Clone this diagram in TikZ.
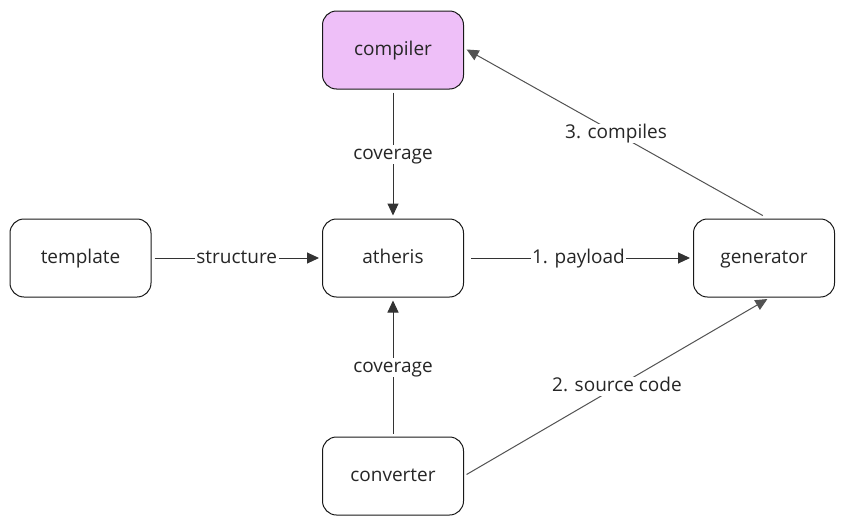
\documentclass[tikz,border=0pt]{standalone}
\usepackage{fontspec}
\setmainfont{Open Sans}
\usetikzlibrary{arrows.meta}
\definecolor{lila}{HTML}{EEBFF8}
\definecolor{ln}{HTML}{333333}
\tikzset{
  box/.style={draw=black!90, line width=1pt, rounded corners=14pt, minimum width=141pt, minimum height=78pt, font=\fontsize{19}{22}\selectfont, text=black!85, text height=13pt, text depth=3pt},
  conn/.style={draw=ln, line width=1pt, -{Triangle[length=12pt,width=11pt]}},
  lab/.style={fill=white, inner sep=1.5pt, font=\fontsize{19}{22}\selectfont, text=black!85, text height=13pt, text depth=3pt}
}
\begin{document}
\begin{tikzpicture}[x=1pt,y=-1pt]
\useasboundingbox (0,0) rectangle (844,525);
\node[box, fill=lila] (compiler) at (393,50) {compiler};
\node[box] (template) at (80.5,258) {template};
\node[box] (atheris) at (393,258) {atheris};
\node[box] (generator) at (764,258) {generator};
\node[box] (converter) at (393,476) {converter};
\draw[conn, shorten <=3pt, shorten >=3pt] (compiler) -- node[lab] {coverage} (atheris);
\draw[conn, shorten <=3pt, shorten >=3pt] (template) -- node[lab] {structure} (atheris);
\draw[conn, shorten <=7pt, shorten >=3pt] (atheris) -- node[lab] {1. payload} (generator);
\draw[conn, shorten <=3pt, shorten >=3pt] (converter) -- node[lab] {coverage} (atheris);
\draw[conn, draw=ln!85, shorten <=3pt, shorten >=3pt] (converter.east) -- node[lab, pos=0.5] {2. source code} ([xshift=6pt]generator.south);
\draw[conn, draw=ln!85, shorten <=6pt, shorten >=3pt] ([xshift=4pt]generator.north) -- node[lab, pos=0.5] {3. compiles} ([yshift=2pt]compiler.east);
\end{tikzpicture}
\end{document}
